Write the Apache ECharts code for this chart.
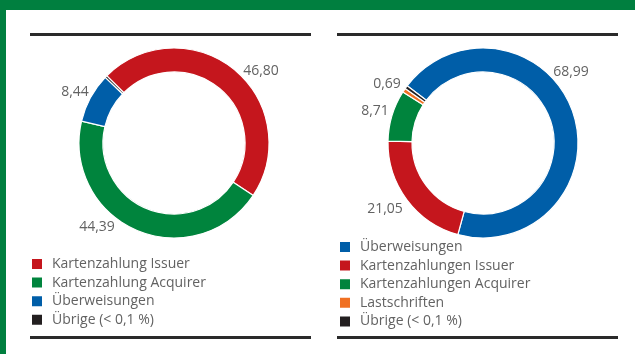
<!DOCTYPE html>
<html>
<head>
<meta charset="utf-8">
<script src="https://cdn.jsdelivr.net/npm/echarts@6/dist/echarts.min.js"></script>
<style>
  html, body { margin: 0; padding: 0; background: #fff; }
  #chart { width: 635px; height: 354px; }
</style>
</head>
<body>
<div id="chart"></div>
<script>
// Shares of payment transactions, two donut panels
const leftNames = ['Kartenzahlung Issuer', 'Kartenzahlung Acquirer', 'Überweisungen', 'Übrige (< 0,1 %)'];
const leftValues = [46.80, 44.39, 8.44, 0.37];
const leftLabelled = [true, true, true, false];

const rightNames = ['Überweisungen', 'Kartenzahlungen Issuer', 'Kartenzahlungen Acquirer', 'Lastschriften', 'Übrige (< 0,1 %)'];
const rightValues = [68.99, 21.05, 8.71, 0.69, 0.56];
const rightLabelled = [true, true, true, true, false];

const RED = '#c5161d', GREEN = '#00843d', BLUE = '#005ea8', ORANGE = '#f07022', BLACK = '#231f20';
const leftColors = [RED, GREEN, BLUE, BLACK];
const rightColors = [BLUE, RED, GREEN, ORANGE, BLACK];

const TEXT = '#626262';
const FONT = '"Open Sans", "Noto Sans", sans-serif';

// value label anchor points around each ring
const labelSpots = [
  [[261, 71], [97, 227], [75, 92]],
  [[571, 72], [385, 209], [375, 111], [387, 84]]
];

function fmt(v) { return v.toFixed(2).replace('.', ','); }

function pieData(names, values, colors) {
  return names.map((n, i) => ({ name: n, value: values[i], itemStyle: { color: colors[i] } }));
}

function pieSeries(names, values, colors, center, start) {
  return {
    type: 'pie',
    radius: [71, 95],
    center: center,
    startAngle: start,
    clockwise: true,
    silent: true,
    itemStyle: { borderColor: '#fff', borderWidth: 1.2 },
    label: { show: false },
    labelLine: { show: false },
    data: pieData(names, values, colors)
  };
}

function legend(names, left, top) {
  return {
    data: names,
    orient: 'vertical',
    left: left,
    top: top,
    padding: 0,
    icon: 'rect',
    itemWidth: 12,
    itemHeight: 12,
    itemGap: 4.6,
    selectedMode: false,
    textStyle: { color: TEXT, fontFamily: FONT, fontSize: 14, lineHeight: 14, padding: [0, 0, 0, 4] }
  };
}

function valueLabels(values, labelled, spots) {
  const out = [];
  values.forEach((v, i) => {
    if (!labelled[i]) return;
    out.push({
      type: 'text', silent: true,
      x: spots[i][0], y: spots[i][1],
      style: { text: fmt(v), fill: TEXT, font: '14px ' + FONT, textAlign: 'center', textVerticalAlign: 'middle' }
    });
  });
  return out;
}

const rule = (x, y, w) => ({ type: 'rect', shape: { x: x, y: y, width: w, height: 3 }, style: { fill: '#2a2a2a' }, silent: true });

const chart = echarts.init(document.getElementById('chart'), null, { renderer: 'canvas' });

chart.setOption({
  animation: false,
  backgroundColor: '#fff',
  graphic: [
    { type: 'rect', shape: { x: 0, y: 0, width: 635, height: 10 }, style: { fill: '#007f3f' }, silent: true },
    { type: 'rect', shape: { x: 0, y: 0, width: 6, height: 354 }, style: { fill: '#007f3f' }, silent: true },
    rule(30, 33, 281), rule(337, 33, 281),
    rule(30, 336, 281), rule(337, 336, 281)
  ].concat(valueLabels(leftValues, leftLabelled, labelSpots[0]))
   .concat(valueLabels(rightValues, rightLabelled, labelSpots[1])),
  legend: [
    legend(leftNames, 30, 257),
    legend(rightNames, 338, 240)
  ],
  series: [
    pieSeries(leftNames, leftValues, leftColors, [174, 143], 135),
    pieSeries(rightNames, rightValues, rightColors, [483, 143], 143)
  ]
});
</script>
</body>
</html>
